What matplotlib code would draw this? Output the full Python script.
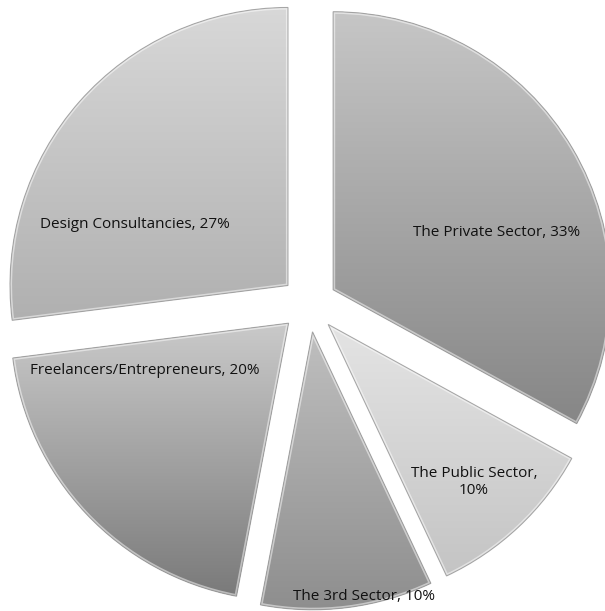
import matplotlib
matplotlib.use("Agg")
import matplotlib.pyplot as plt
import numpy as np
from matplotlib.colors import to_rgb
from matplotlib.patches import Wedge

categories = ["The Private Sector", "The Public Sector", "The 3rd Sector",
              "Freelancers/Entrepreneurs", "Design Consultancies"]
shares = [33, 10, 10, 20, 27]
label_texts = ["The Private Sector, 33%", "The Public Sector,\n10%",
               "The 3rd Sector, 10%", "Freelancers/Entrepreneurs, 20%",
               "Design Consultancies, 27%"]

# styling (top colour, bottom colour) for gradients
top_colors = ["#c6c6c6", "#e4e4e4", "#bfbfbf", "#cacaca", "#d8d8d8"]
bot_colors = ["#868686", "#c4c4c4", "#8e8e8e", "#7a7a7a", "#b0b0b0"]
label_pos = [(497, 232), (474, 482), (364, 596), (145, 370), (135, 224)]  # pixel (x, y from top)

W, H = 605, 611
fig = plt.figure(figsize=(W / 100, H / 100), dpi=100)
ax = fig.add_axes([0, 0, 1, 1])

wedges, _ = ax.pie(shares, startangle=90, counterclock=False, radius=278,
                   center=(309, H - 304), explode=[28] * len(shares),
                   colors=bot_colors, wedgeprops=dict(linewidth=0))
ax.set_xlim(0, W)
ax.set_ylim(0, H)
ax.set_aspect('equal')
ax.axis('off')

for w, tc, bc in zip(wedges, top_colors, bot_colors):
    ext = w.get_path().get_extents()
    t = np.array(to_rgb(tc))
    b = np.array(to_rgb(bc))
    f = np.linspace(0, 1, 256)[:, None, None]
    grad = t[None, None, :] * (1 - f) + b[None, None, :] * f
    im = ax.imshow(grad, extent=(ext.x0, ext.x1, ext.y0, ext.y1), origin='upper',
                   aspect='auto', zorder=2, interpolation='bilinear')
    im.set_clip_path(w)
    # bevel highlight
    hl = Wedge(w.center, w.r, w.theta1, w.theta2, facecolor='none',
               edgecolor='white', linewidth=3, alpha=0.5, zorder=3)
    ax.add_patch(hl)
    hl.set_clip_path(w)
    # outer subtle edge
    ol = Wedge(w.center, w.r, w.theta1, w.theta2, facecolor='none',
               edgecolor='#8e8e8e', linewidth=0.8, alpha=0.7, zorder=3)
    ax.add_patch(ol)

ax.set_xlim(0, W)
ax.set_ylim(0, H)

for txt, (px, py) in zip(label_texts, label_pos):
    ax.text(px, H - py, txt, ha='center', va='center', fontsize=11,
            family=['Open Sans', 'DejaVu Sans'], color='#111111', zorder=5,
            linespacing=1.25)

fig.savefig("out.png", dpi=100)
